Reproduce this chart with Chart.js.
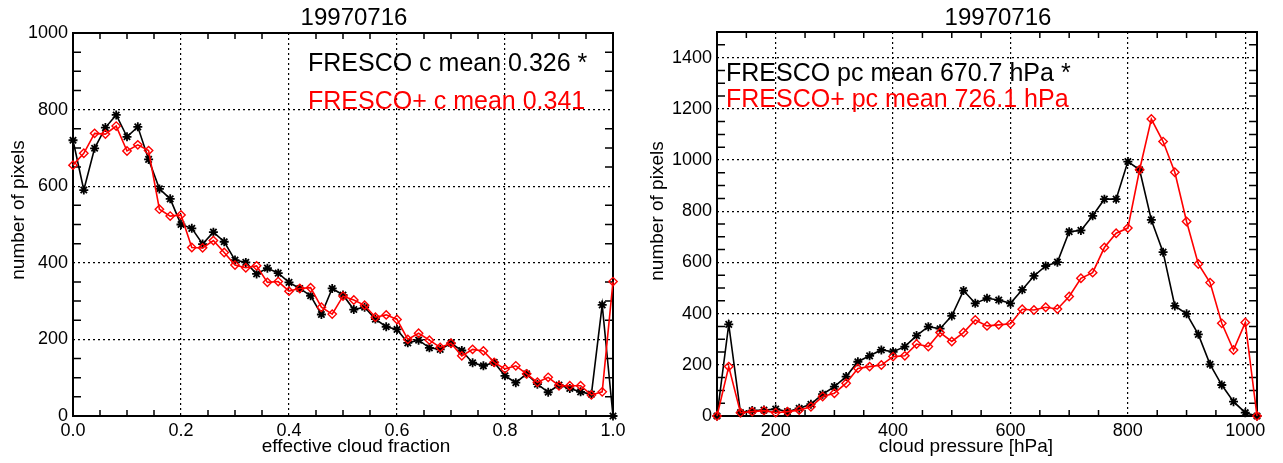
<!DOCTYPE html>
<html>
<head>
<meta charset="utf-8">
<script src="https://cdn.jsdelivr.net/npm/chart.js@4.4.1/dist/chart.umd.min.js"></script>
<style>
  body { margin: 0; background: #fff; width: 1283px; height: 463px; overflow: hidden; position: relative; }
  canvas { position: absolute; top: 0; }
</style>
</head>
<body>
<canvas id="cfChart" width="641" height="463" style="left:0"></canvas>
<canvas id="pcChart" width="642" height="463" style="left:641px"></canvas>
<script>
// ---- left panel: effective cloud fraction histogram ----
const cfBins = [0.00, 0.02, 0.04, 0.06, 0.08, 0.10, 0.12, 0.14, 0.16, 0.18,
                0.20, 0.22, 0.24, 0.26, 0.28, 0.30, 0.32, 0.34, 0.36, 0.38,
                0.40, 0.42, 0.44, 0.46, 0.48, 0.50, 0.52, 0.54, 0.56, 0.58,
                0.60, 0.62, 0.64, 0.66, 0.68, 0.70, 0.72, 0.74, 0.76, 0.78,
                0.80, 0.82, 0.84, 0.86, 0.88, 0.90, 0.92, 0.94, 0.96, 0.98, 1.00];
const cfFresco = [720, 590, 699, 753, 786, 729, 755, 670, 593, 567,
                  500, 490, 449, 480, 455, 407, 401, 371, 386, 373,
                  349, 333, 314, 265, 333, 316, 278, 284, 253, 233,
                  226, 191, 198, 178, 174, 190, 171, 139, 131, 140,
                  105, 87, 110, 83, 62, 81, 72, 63, 57, 290, 0];
const cfFrescoPlus = [655, 686, 738, 736, 757, 692, 708, 693, 540, 522,
                      525, 440, 439, 458, 427, 394, 387, 392, 349, 351,
                      326, 333, 335, 284, 266, 313, 303, 289, 258, 264,
                      252, 200, 216, 198, 179, 190, 157, 174, 170, 140,
                      123, 131, 110, 88, 101, 79, 79, 79, 55, 63, 351];
const cfXTicks = [0.0, 0.2, 0.4, 0.6, 0.8, 1.0];
const cfYTicks = [0, 200, 400, 600, 800, 1000];

// ---- right panel: cloud pressure histogram ----
const pcBins = [100, 120, 140, 160, 180, 200, 220, 240, 260, 280,
                300, 320, 340, 360, 380, 400, 420, 440, 460, 480,
                500, 520, 540, 560, 580, 600, 620, 640, 660, 680,
                700, 720, 740, 760, 780, 800, 820, 840, 860, 880,
                900, 920, 940, 960, 980, 1000, 1020];
const pcFresco = [0, 358, 13, 21, 23, 27, 17, 30, 46, 85,
                  115, 154, 212, 235, 258, 251, 271, 314, 349, 341,
                  391, 490, 440, 460, 453, 440, 493, 547, 586, 601,
                  720, 725, 782, 847, 847, 994, 962, 766, 640, 430,
                  399, 319, 202, 121, 56, 13, 0];
const pcFrescoPlus = [0, 193, 13, 17, 21, 13, 17, 23, 36, 76,
                      89, 128, 186, 193, 199, 232, 235, 281, 271, 326,
                      291, 326, 375, 352, 356, 360, 417, 414, 425, 418,
                      467, 538, 560, 658, 714, 734, 962, 1160, 1072, 952,
                      760, 594, 521, 362, 258, 365, 0];
const pcXTicks = [200, 400, 600, 800, 1000];
const pcYTicks = [0, 200, 400, 600, 800, 1000, 1200, 1400];

const FONT = '"Liberation Sans", Arial, Helvetica, sans-serif';
Chart.defaults.font.family = FONT;
Chart.defaults.color = '#000';

// frame, inward minor ticks and the IDL-style annotations
const idlDecor = {
    id: 'idlDecor',
    beforeDatasetsDraw(chart, args, o) {
        const { ctx, chartArea: a, scales: { x, y } } = chart;
        ctx.save();
        ctx.strokeStyle = '#000';
        ctx.lineWidth = 1.5;
        ctx.setLineDash([]);
        ctx.beginPath();
        const isMajor = (scale, v) => scale.ticks.some(t => Math.abs(t.value - v) < 1e-6);
        for (let v = x.min; v <= x.max + 1e-9; v += o.minorX) {
            if (isMajor(x, v)) continue;
            const px = x.getPixelForValue(v);
            ctx.moveTo(px, a.bottom); ctx.lineTo(px, a.bottom - o.tickX);
            ctx.moveTo(px, a.top); ctx.lineTo(px, a.top + o.tickX);
        }
        for (let v = y.min; v <= y.max + 1e-9; v += o.minorY) {
            if (isMajor(y, v)) continue;
            const py = y.getPixelForValue(v);
            ctx.moveTo(a.left, py); ctx.lineTo(a.left + o.tickY, py);
            ctx.moveTo(a.right, py); ctx.lineTo(a.right - o.tickY, py);
        }
        ctx.stroke();
        ctx.lineWidth = 2;
        ctx.strokeRect(a.left, a.top, a.right - a.left, a.bottom - a.top);
        ctx.restore();
    },
    afterDraw(chart, args, o) {
        const ctx = chart.ctx;
        ctx.save();
        ctx.textBaseline = 'alphabetic';
        ctx.fillStyle = '#000';
        ctx.textAlign = 'center';
        ctx.font = '24px ' + FONT;
        ctx.fillText(o.title.text, o.title.x, o.title.y);

        ctx.textAlign = 'left';
        ctx.font = '25px ' + FONT;
        o.notes.forEach(n => {
            ctx.fillStyle = n.color;
            ctx.fillText(n.text, n.x, n.y);
        });

        ctx.fillStyle = '#000';
        ctx.textAlign = 'center';
        ctx.font = '19px ' + FONT;
        ctx.fillText(o.xTitle.text, o.xTitle.x, o.xTitle.y);
        ctx.translate(o.yTitle.x, o.yTitle.y);
        ctx.rotate(-Math.PI / 2);
        ctx.fillText(o.yTitle.text, 0, 0);
        ctx.restore();
    }
};

function series(xs, ys) {
    return xs.map((x, i) => ({ x: x, y: ys[i] }));
}

function makeChart(id, cfg) {
    return new Chart(document.getElementById(id), {
        type: 'line',
        data: {
            datasets: [
                {
                    label: 'FRESCO',
                    data: series(cfg.bins, cfg.black),
                    borderColor: '#000',
                    borderWidth: 1.6,
                    pointStyle: 'star',
                    pointRadius: 4.5,
                    pointBorderWidth: 1.8,
                    pointBorderColor: '#000',
                    tension: 0,
                    order: 2
                },
                {
                    label: 'FRESCO+',
                    data: series(cfg.bins, cfg.red),
                    borderColor: '#ff0000',
                    borderWidth: 1.6,
                    pointStyle: 'rectRot',
                    pointRadius: 4.2,
                    pointBorderWidth: 1.4,
                    pointBorderColor: '#ff0000',
                    pointBackgroundColor: 'rgba(0,0,0,0)',
                    tension: 0,
                    order: 1
                }
            ]
        },
        options: {
            responsive: false,
            animation: false,
            events: [],
            clip: false,
            layout: { padding: { left: 0, top: cfg.top, right: cfg.right, bottom: 0 } },
            scales: {
                x: {
                    type: 'linear',
                    position: 'bottom',
                    min: cfg.xMin,
                    max: cfg.xMax,
                    afterBuildTicks: s => { s.ticks = cfg.xTicks.map(v => ({ value: v })); },
                    afterFit: s => { s.height = 463 - 416; },
                    ticks: {
                        callback: cfg.xFmt,
                        font: { size: 18 },
                        color: '#000',
                        padding: 4,
                        maxRotation: 0,
                        autoSkip: false
                    },
                    grid: { color: '#000', lineWidth: 1.2, drawTicks: false },
                    border: { display: false, dash: [2, 3] }
                },
                y: {
                    type: 'linear',
                    min: 0,
                    max: cfg.yMax,
                    afterBuildTicks: s => { s.ticks = cfg.yTicks.map(v => ({ value: v })); },
                    afterFit: s => { s.width = cfg.left; },
                    ticks: {
                        callback: v => String(v),
                        font: { size: 18 },
                        color: '#000',
                        padding: 5,
                        autoSkip: false
                    },
                    grid: { color: '#000', lineWidth: 1.2, drawTicks: false },
                    border: { display: false, dash: [2, 3] }
                }
            },
            plugins: {
                legend: { display: false },
                tooltip: { enabled: false },
                idlDecor: cfg.decor
            }
        },
        plugins: [idlDecor]
    });
}

makeChart('cfChart', {
    bins: cfBins, black: cfFresco, red: cfFrescoPlus,
    xMin: 0, xMax: 1, yMax: 1000,
    xTicks: cfXTicks, yTicks: cfYTicks,
    xFmt: v => v.toFixed(1),
    left: 73, right: 28, top: 33,
    decor: {
        minorX: 0.05, minorY: 50, tickX: 6, tickY: 8,
        title: { text: '19970716', x: 354, y: 25 },
        notes: [
            { text: 'FRESCO c mean 0.326 *', color: '#000', x: 308, y: 71 },
            { text: 'FRESCO+ c mean 0.341', color: '#ff0000', x: 308, y: 109 }
        ],
        xTitle: { text: 'effective cloud fraction', x: 356, y: 452 },
        yTitle: { text: 'number of pixels', x: 24, y: 210 }
    }
});

makeChart('pcChart', {
    bins: pcBins, black: pcFresco, red: pcFrescoPlus,
    xMin: 100, xMax: 1020, yMax: 1500,
    xTicks: pcXTicks, yTicks: pcYTicks,
    xFmt: v => String(v),
    left: 76, right: 26, top: 32,
    decor: {
        minorX: 50, minorY: 50, tickX: 6, tickY: 8,
        title: { text: '19970716', x: 357, y: 25 },
        notes: [
            { text: 'FRESCO pc mean 670.7 hPa *', color: '#000', x: 85, y: 81 },
            { text: 'FRESCO+ pc mean 726.1 hPa', color: '#ff0000', x: 85, y: 107 }
        ],
        xTitle: { text: 'cloud pressure [hPa]', x: 325, y: 452 },
        yTitle: { text: 'number of pixels', x: 22, y: 211 }
    }
});
</script>
</body>
</html>
